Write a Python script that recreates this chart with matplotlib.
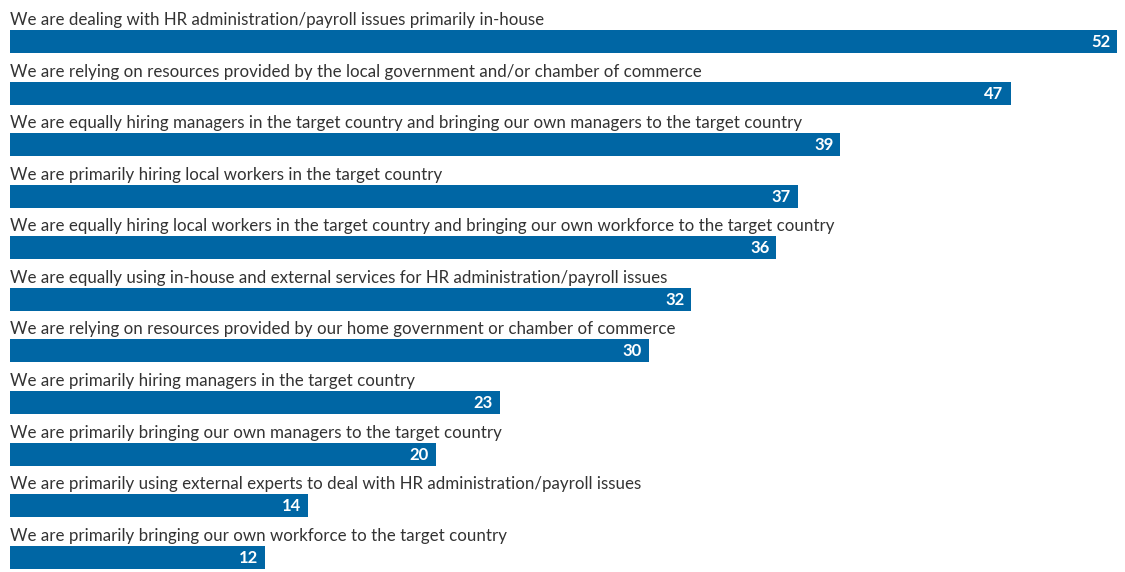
import matplotlib
matplotlib.use("Agg")
import matplotlib.pyplot as plt

# Survey answers (percent), top to bottom
answers = [
    "We are dealing with HR administration/payroll issues primarily in-house",
    "We are relying on resources provided by the local government and/or chamber of commerce",
    "We are equally hiring managers in the target country and bringing our own managers to the target country",
    "We are primarily hiring local workers in the target country",
    "We are equally hiring local workers in the target country and bringing our own workforce to the target country",
    "We are equally using in-house and external services for HR administration/payroll issues",
    "We are relying on resources provided by our home government or chamber of commerce",
    "We are primarily hiring managers in the target country",
    "We are primarily bringing our own managers to the target country",
    "We are primarily using external experts to deal with HR administration/payroll issues",
    "We are primarily bringing our own workforce to the target country",
]
shares = [52, 47, 39, 37, 36, 32, 30, 23, 20, 14, 12]

family = "Lato"
bar_color = "#0066a4"
text_color = "#333333"

W, H = 1125, 572
fig = plt.figure(figsize=(W / 100, H / 100), dpi=100)
ax = fig.add_axes([0, 0, 1, 1])

# pixel units vertically, percent units horizontally
px_per_unit = 21.29
left_px = 10
ax.set_xlim(-left_px / px_per_unit, (W - left_px) / px_per_unit)
ax.set_ylim(H, 0)
ax.axis("off")

first_center = 41.5
step = 51.58
bar_h = 23

for i, (label, val) in enumerate(zip(answers, shares)):
    yc = first_center + i * step
    ax.barh(yc, val, height=bar_h, left=0, color=bar_color)
    ax.text(0, yc - bar_h / 2 - 5, label, family=family, fontsize=12.15,
            color=text_color, ha="left", va="baseline")
    ax.text(val - 7 / px_per_unit, yc + 0.5, str(val), family=family, fontsize=12,
            fontweight="bold", color="white", ha="right", va="center")

fig.savefig("out.png", dpi=100)
